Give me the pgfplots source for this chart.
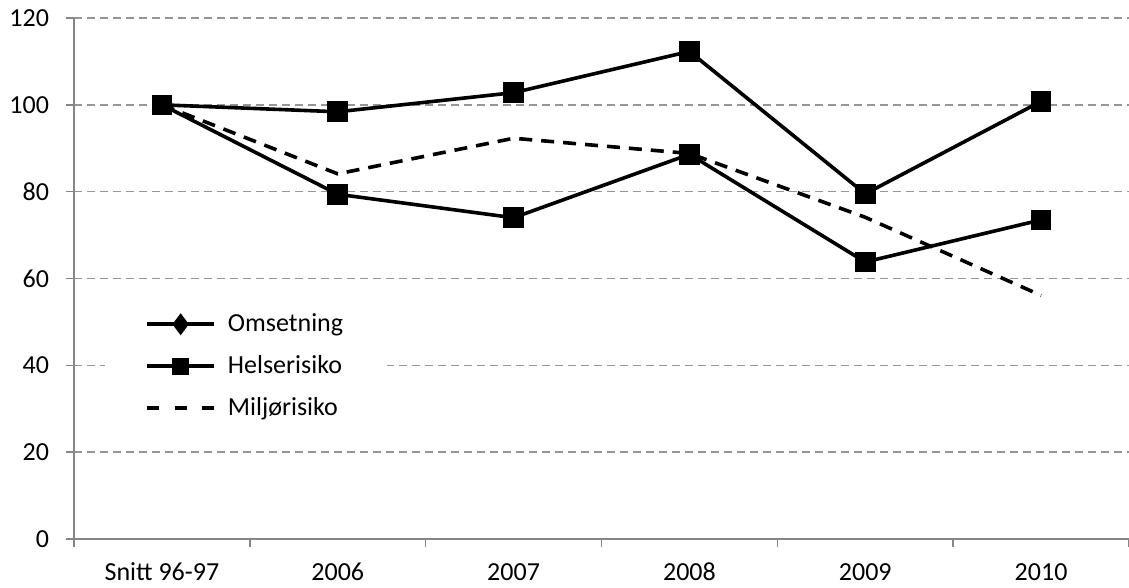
\documentclass[border=0pt]{standalone}
\usepackage{fontspec}
\setmainfont{Carlito}
\usepackage{pgfplots}
\pgfplotsset{compat=1.18}
\definecolor{axgray}{HTML}{868686}
\definecolor{gridgray}{HTML}{969696}
\begin{document}
\fontsize{13}{15.6}\selectfont
\begin{tikzpicture}
\begin{axis}[
  scale only axis, width=527.5pt, height=260.5pt,
  xmin=-0.5, xmax=5.5, ymin=0, ymax=120,
  axis x line=bottom, axis y line=left,
  axis line style={axgray, line width=0.75pt, -},
  xtick={0,1,2,3,4,5},
  xticklabels={Snitt 96-97,2006,2007,2008,2009,2010},
  major x tick style={draw=none},
  minor xtick={-0.5,0.5,1.5,2.5,3.5,4.5,5.5},
  minor x tick style={axgray, line width=0.75pt},
  ytick={0,20,40,60,80,100,120},
  y tick style={axgray, line width=0.75pt},
  tick align=outside, major tick length=4pt, minor tick length=4pt,
  ymajorgrids,
  major grid style={gridgray, line width=0.75pt, dash pattern=on 4pt off 2.5pt},
  tick label style={font=\fontsize{13}{15.6}\selectfont},
  xticklabel style={anchor=north, text height=8.5pt, text depth=0pt, yshift=-3.5pt},
  yticklabel style={xshift=-4pt},
  /pgf/number format/assume math mode=true,
  clip=false,
  legend cell align=left,
  legend style={at={(axis cs:-0.324,53.9)}, anchor=north west, draw=none, fill=white,
    inner xsep=20pt, inner ysep=2pt, row sep=6pt,
    /tikz/every odd column/.append style={column sep=4pt},
    font=\fontsize{13}{15.6}\selectfont},
  legend image code/.code={\draw[mark repeat=2,mark phase=2,#1] plot coordinates {(0pt,0pt) (16.75pt,0pt) (33.5pt,0pt)};},
]
\addplot[black, line width=1.8pt, mark=square*, mark size=4.25pt, forget plot] coordinates {
 (0,100) (1,98.4) (2,102.8) (3,112.3) (4,79.5) (5,100.8)};
\addplot[black, line width=1.8pt, mark=square*, mark size=4.25pt, forget plot] coordinates {
 (0,100) (1,79.4) (2,74.0) (3,88.6) (4,63.8) (5,73.5)};
\addplot[black, line width=1.8pt, dash pattern=on 6.5pt off 4.5pt, forget plot] coordinates {
 (0,100) (1,84.1) (2,92.3) (3,88.8) (4,74.1) (5,56.1)};
\addlegendimage{black, line width=1.8pt, mark=diamond*, mark size=4pt}
\addlegendentry{Omsetning}
\addlegendimage{black, line width=1.8pt, mark=square*, mark size=3.3pt}
\addlegendentry{Helserisiko}
\addlegendimage{black, line width=1.8pt, dash pattern=on 6pt off 7.75pt}
\addlegendentry{Miljørisiko}
\end{axis}
\pgfresetboundingbox
\path ([shift={(-37pt,-24.5pt)}]current axis.south west) rectangle ([shift={(0pt,9pt)}]current axis.north east);
\end{tikzpicture}
\end{document}
